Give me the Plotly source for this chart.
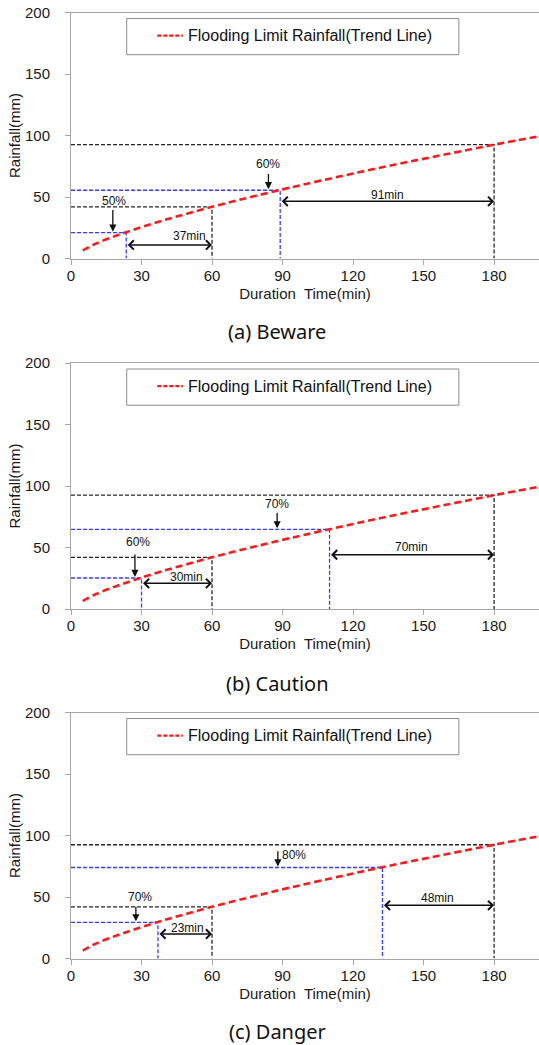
import plotly.graph_objects as go

# ---------------- data ----------------
duration_min = [5, 10, 20, 30, 40, 50, 60, 70, 80, 90, 100, 120, 140, 160, 180, 200]
limit_rainfall_mm = [6.5, 11.6, 19.1, 25.5, 31.4, 36.8, 42.0, 46.9, 51.6, 56.2, 60.6, 69.1, 77.2, 84.9, 92.5, 99.7]

ref_durations = [60, 180]
ref_rainfall = [42.0, 92.5]

stage_labels = ["(a) Beware", "(b) Caution", "(c) Danger"]
short_pct = ["50%", "60%", "70%"]
long_pct = ["60%", "70%", "80%"]
short_dur = [23.5, 30, 37]
short_rain = [21.0, 25.2, 29.4]
long_dur = [89, 110, 132.5]
long_rain = [55.5, 64.75, 74.0]
short_lead = ["37min", "30min", "23min"]
long_lead = ["91min", "70min", "48min"]

x_ticks = [0, 30, 60, 90, 120, 150, 180]
y_ticks = [0, 50, 100, 150, 200]

# ---------------- positions / styles ----------------
W, H = 539, 1045
L_MARGIN = 71
X_RANGE = [0, 199.1]
panel_px = [(12.5, 258.5), (363, 609), (712.5, 958.5)]   # top, bottom (window pixels)
caption_px = [331, 683, 1031]
caption_x_px = 277

pct_arrow_short = [(17.8, 40.7), (27.2, 45.5), (27.6, 43.2)]
pct_label_short = [(18.5, 46.5), (28.7, 54.2), (29.4, 49.9)]
pct_arrow_long = [(84, 70), (87.7, 79.4), (88, 88.5)]
pct_label_long = [(83.7, 76.5), (87.6, 85.6), (94.7, 84.5)]
lead_y_short = [11, 20.9, 19.9]
lead_label_short = [(50.6, 18), (49, 25.8), (49.4, 24.8)]
lead_y_long = [46.5, 44.1, 43.2]
lead_label_long = [(134.7, 52), (144.8, 50.4), (156.1, 49.4)]

FONT = "Liberation Sans, Arial, sans-serif"
AXIS_GRAY = "#a6a6a6"
BLACK_DASH = "#262626"
BLUE = "#3a3aff"
RED = "#ff1a1a"

fig = go.Figure()
annotations = []
shapes = []

for i in range(3):
    n = "" if i == 0 else str(i + 1)
    xr, yr = "x" + n, "y" + n
    top, bot = panel_px[i]
    dom = [1 - bot / H, 1 - top / H]

    # black reference lines (60 min and 180 min limits)
    for d, r in zip(ref_durations, ref_rainfall):
        fig.add_trace(go.Scatter(x=[0, d, d], y=[r, r, 0], mode="lines",
                                 line=dict(color=BLACK_DASH, width=1.3, dash="4px,2px"),
                                 xaxis=xr, yaxis=yr, showlegend=False, hoverinfo="skip"))
    # blue lines (stage thresholds)
    for d, r in [(short_dur[i], short_rain[i]), (long_dur[i], long_rain[i])]:
        fig.add_trace(go.Scatter(x=[0, d, d], y=[r, r, 0], mode="lines",
                                 line=dict(color=BLUE, width=1.3, dash="4px,2px"),
                                 xaxis=xr, yaxis=yr, showlegend=False, hoverinfo="skip"))
    # trend line
    fig.add_trace(go.Scatter(x=duration_min, y=limit_rainfall_mm, mode="lines",
                             line=dict(color=RED, width=2.6, dash="7px,4px", shape="spline"),
                             name="Flooding Limit Rainfall(Trend Line)",
                             xaxis=xr, yaxis=yr, showlegend=False))

    fig.update_layout(**{
        "xaxis" + n: dict(domain=[0, 1], range=X_RANGE, anchor=yr, tickvals=x_ticks,
                          showline=True, linecolor=AXIS_GRAY, linewidth=1, mirror=True,
                          ticks="outside", ticklen=5, tickcolor=AXIS_GRAY,
                          showgrid=False, zeroline=False,
                          title=dict(text="Duration\u00a0 Time(min)", standoff=5,
                                     font=dict(size=15)),
                          automargin=False),
        "yaxis" + n: dict(domain=dom, range=[0, 200], anchor=xr, tickvals=y_ticks,
                          showline=True, linecolor=AXIS_GRAY, linewidth=1,
                          ticks="outside", ticklen=5, tickcolor=AXIS_GRAY,
                          showgrid=False, zeroline=False, ticklabelstandoff=12,
                          title=dict(text="Rainfall(mm)", standoff=0, font=dict(size=15)),
                          automargin=False),
    })
    try:
        fig.layout["xaxis" + n].ticklabelstandoff = -2
    except Exception:
        fig.layout["xaxis" + n].ticklabelstandoff = 0

    # legend box
    shapes.append(dict(type="rect", xref=xr, yref=yr, x0=23.7, x1=165, y0=165.7, y1=195.1,
                       line=dict(color="#8c8c8c", width=1), fillcolor="white", layer="above"))
    shapes.append(dict(type="line", xref=xr, yref=yr, x0=36.7, x1=47.6, y0=181.2, y1=181.2,
                       line=dict(color=RED, width=2.2, dash="4px,2px"), layer="above"))
    annotations.append(dict(xref=xr, yref=yr, x=49.0, y=181.2, xanchor="left", yanchor="middle",
                            text="Flooding Limit Rainfall(Trend Line)", showarrow=False,
                            font=dict(size=16, color="#111111")))

    # percentage arrows + labels
    for (ax_, ay_), (lx, ly), tip, txt in [
        (pct_arrow_short[i], pct_label_short[i], short_rain[i] + 0.8, short_pct[i]),
        (pct_arrow_long[i], pct_label_long[i], long_rain[i] + 0.8, long_pct[i]),
    ]:
        annotations.append(dict(xref=xr, yref=yr, axref=xr, ayref=yr, x=ax_, y=tip, ax=ax_, ay=ay_,
                                text="", showarrow=True, arrowhead=2, arrowsize=1.1,
                                arrowwidth=1.3, arrowcolor="#111111"))
        annotations.append(dict(xref=xr, yref=yr, x=lx, y=ly, text=txt, showarrow=False,
                                xanchor="center", yanchor="middle",
                                font=dict(size=12, color="#111111")))

    # lead-time double arrows + labels
    for x0, x1, yy, (lx, ly), txt in [
        (short_dur[i], ref_durations[0], lead_y_short[i], lead_label_short[i], short_lead[i]),
        (long_dur[i], ref_durations[1], lead_y_long[i], lead_label_long[i], long_lead[i]),
    ]:
        annotations.append(dict(xref=xr, yref=yr, axref=xr, ayref=yr, x=x1, y=yy, ax=x0, ay=yy,
                                text="", showarrow=True, arrowhead=4, arrowsize=1.2,
                                arrowside="end+start", startarrowhead=4, startarrowsize=1.2,
                                arrowwidth=1.5, arrowcolor="#111111"))
        annotations.append(dict(xref=xr, yref=yr, x=lx, y=ly, text=txt, showarrow=False,
                                xanchor="center", yanchor="middle",
                                font=dict(size=12, color="#111111")))

    # caption
    annotations.append(dict(xref="paper", yref="paper",
                            x=(caption_x_px - L_MARGIN) / (W - L_MARGIN),
                            y=1 - caption_px[i] / H, text=stage_labels[i], showarrow=False,
                            xanchor="center", yanchor="middle",
                            font=dict(family="Noto Sans, sans-serif", size=20, color="#111111")))

fig.update_layout(
    width=W, height=H,
    margin=dict(l=L_MARGIN, r=0, t=0, b=0),
    paper_bgcolor="white", plot_bgcolor="white",
    font=dict(family=FONT, size=15, color="#1a1a1a"),
    showlegend=False,
    hovermode=False,
    annotations=annotations,
    shapes=shapes,
)

fig.write_html(
    "out.html",
    config={"displayModeBar": False, "staticPlot": True},
    post_script="document.documentElement.style.margin='0';"
                "document.body.style.margin='0';document.body.style.padding='0';"
                "document.body.style.overflow='hidden';",
)
